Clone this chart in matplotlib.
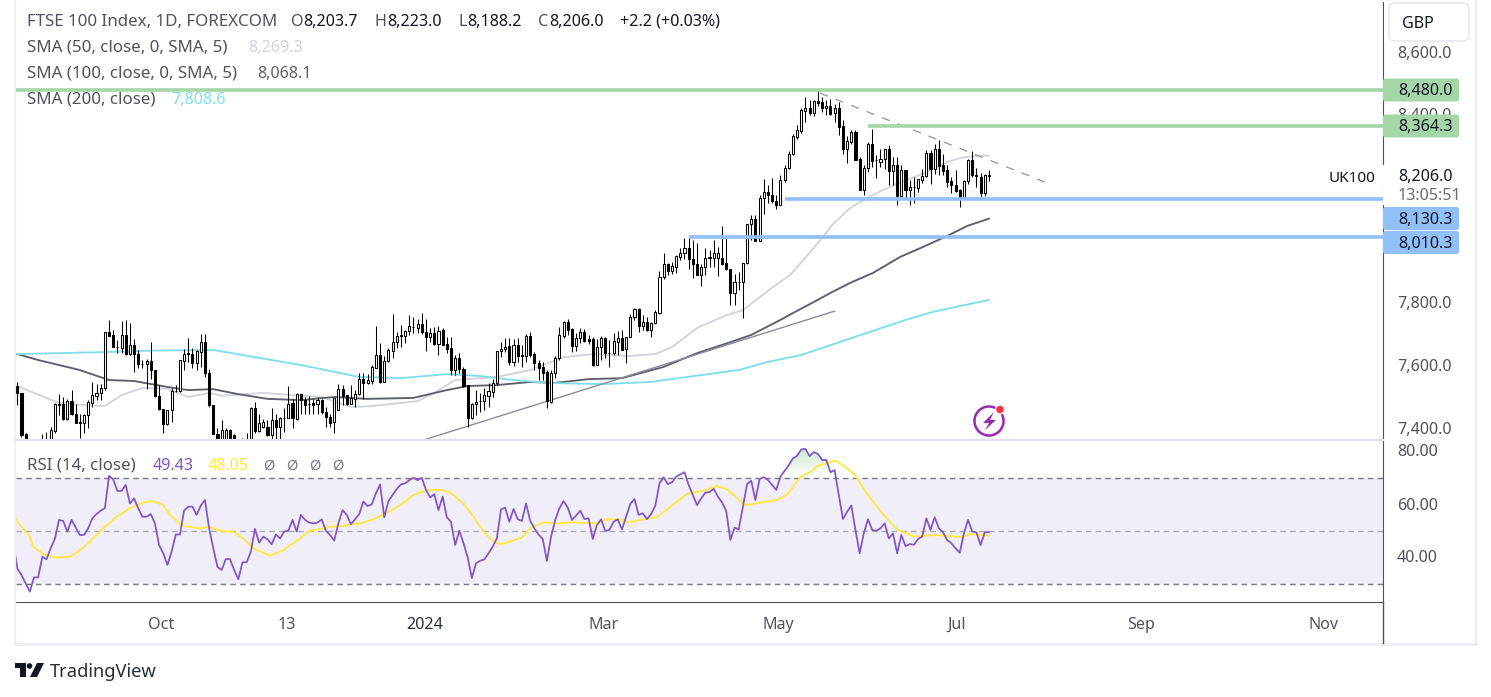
import numpy as np
import matplotlib
matplotlib.use("Agg")
import matplotlib.pyplot as plt
from matplotlib.patches import FancyBboxPatch, Rectangle, Polygon, Circle, Arc
from matplotlib.transforms import ScaledTranslation

plt.rcParams['font.family'] = ['Noto Sans', 'DejaVu Sans']

opens = [7534,7513,7380,7340,7320,7325,7330,7335,7361,7391,
 7478,7476,7428,7485,7446,7418,7417,7442,7481,7502,
 7512,7528,7705,7696,7660,7656,7696,7635,7664,7635,
 7603,7603,7613,7585,7503,7462,7412,7456,7518,7518,
 7615,7638,7636,7608,7643,7673,7574,7475,7381,7345,
 7345,7395,7377,7320,7330,7340,7362,7463,7391,7402,
 7404,7378,7425,7402,7431,7431,7481,7430,7507,7489,
 7476,7480,7476,7489,7452,7436,7419,7459,7523,7505,
 7478,7494,7508,7558,7545,7551,7592,7633,7548,7614,
 7646,7673,7694,7694,7710,7723,7720,7731,7707,7691,
 7704,7668,7712,7667,7654,7585,7625,7587,7537,7433,
 7476,7487,7487,7503,7516,7543,7646,7651,7662,7612,
 7665,7631,7631,7694,7636,7609,7594,7579,7484,7574,
 7622,7695,7737,7716,7663,7686,7708,7683,7683,7601,
 7659,7687,7640,7640,7676,7687,7651,7689,7753,7780,
 7727,7739,7713,7734,7768,7881,7925,7902,7915,7947,
 7959,7973,7941,7925,7888,7915,7944,7944,7944,7944,
 7928,7909,7830,7867,7867,7928,8050,8066,7998,8133,
 8152,8145,8125,8112,8191,8231,8274,8329,8348,8412,
 8420,8404,8443,8439,8423,8429,8404,8420,8363,8289,
 8313,8345,8258,8159,8231,8308,8254,8250,8258,8289,
 8221,8241,8141,8223,8159,8170,8167,8193,8204,8279,
 8228,8289,8239,8223,8188,8177,8159,8130,8187,8257,
 8209,8202,8149,8203.7]
closes = [7512,7377,7340,7320,7310,7330,7352,7360,7393,7478,
 7474,7428,7485,7444,7417,7417,7442,7482,7504,7513,
 7529,7705,7694,7659,7659,7696,7635,7664,7635,7603,
 7603,7613,7585,7503,7460,7412,7457,7518,7518,7617,
 7636,7635,7608,7646,7673,7574,7473,7381,7340,7395,
 7395,7350,7350,7335,7350,7360,7463,7391,7417,7419,
 7377,7425,7402,7432,7431,7478,7431,7507,7489,7473,
 7476,7473,7489,7452,7436,7415,7497,7523,7502,7478,
 7495,7510,7558,7544,7553,7595,7632,7548,7614,7648,
 7673,7694,7696,7710,7724,7723,7731,7707,7691,7702,
 7668,7710,7665,7652,7585,7625,7587,7534,7431,7477,
 7484,7487,7505,7517,7545,7646,7651,7660,7612,7665,
 7631,7631,7695,7633,7606,7593,7577,7487,7574,7622,
 7696,7737,7713,7663,7686,7708,7679,7679,7601,7659,
 7687,7638,7640,7678,7686,7649,7689,7753,7780,7727,
 7737,7713,7734,7769,7881,7925,7902,7917,7949,7960,
 7973,7939,7925,7888,7915,7944,7944,7960,7960,7925,
 7909,7830,7867,7867,7928,8050,8066,7998,8133,8152,
 8143,8125,8112,8193,8231,8276,8331,8350,8414,8420,
 8404,8443,8438,8423,8429,8402,8420,8361,8289,8315,
 8345,8255,8159,8231,8308,8253,8254,8260,8289,8221,
 8241,8141,8223,8159,8170,8168,8194,8205,8279,8228,
 8289,8236,8221,8186,8175,8157,8130,8187,8257,8207,
 8204,8149,8207,8206.0]
highs = [7548,7513,7384,7345,7330,7345,7380,7386,7404,7480,
 7507,7498,7491,7521,7478,7446,7446,7489,7548,7542,
 7540,7705,7744,7714,7680,7742,7744,7736,7683,7648,
 7617,7619,7673,7585,7537,7462,7457,7529,7537,7617,
 7651,7688,7654,7648,7700,7700,7587,7475,7399,7425,
 7400,7396,7380,7340,7367,7383,7468,7484,7446,7430,
 7425,7463,7446,7436,7463,7534,7494,7513,7510,7500,
 7502,7494,7500,7494,7468,7446,7497,7540,7537,7505,
 7537,7521,7576,7576,7572,7601,7725,7670,7629,7654,
 7765,7707,7728,7712,7760,7755,7747,7766,7747,7718,
 7723,7725,7718,7691,7691,7633,7638,7596,7537,7481,
 7521,7511,7527,7543,7555,7646,7676,7686,7686,7683,
 7686,7665,7700,7707,7644,7617,7612,7585,7585,7630,
 7721,7742,7748,7718,7702,7718,7716,7697,7691,7683,
 7694,7691,7681,7704,7710,7713,7689,7764,7784,7782,
 7760,7753,7739,7776,7901,7960,7927,7931,7952,7973,
 8005,8010,8000,7989,7925,7973,7968,8000,7978,8044,
 8005,7909,7893,7899,7928,8050,8079,8079,8143,8196,
 8175,8198,8143,8207,8239,8285,8340,8366,8420,8457,
 8448,8448,8478,8457,8446,8451,8433,8441,8382,8331,
 8350,8350,8265,8239,8313,8356,8271,8289,8292,8303,
 8265,8265,8239,8223,8191,8202,8196,8228,8287,8287,
 8308,8319,8274,8239,8202,8223,8164,8193,8260,8284,
 8231,8214,8210,8223.0]
lows = [7473,7370,7320,7310,7290,7300,7300,7300,7340,7383,
 7441,7425,7425,7441,7415,7367,7385,7399,7468,7489,
 7489,7521,7694,7659,7638,7638,7633,7633,7579,7590,
 7590,7523,7558,7500,7457,7383,7409,7420,7516,7516,
 7585,7611,7590,7585,7595,7563,7468,7381,7320,7320,
 7320,7320,7320,7300,7300,7300,7340,7383,7388,7399,
 7375,7362,7360,7360,7388,7431,7399,7425,7446,7446,
 7446,7446,7446,7446,7402,7402,7383,7459,7473,7473,
 7476,7468,7505,7491,7540,7540,7592,7544,7548,7611,
 7622,7654,7659,7670,7697,7702,7702,7700,7647,7675,
 7665,7634,7665,7638,7569,7569,7577,7530,7402,7428,
 7441,7452,7458,7468,7500,7537,7628,7643,7601,7598,
 7612,7596,7612,7628,7585,7553,7553,7463,7481,7559,
 7617,7686,7697,7643,7647,7672,7675,7668,7598,7601,
 7617,7622,7596,7633,7633,7649,7609,7689,7745,7707,
 7712,7711,7691,7732,7763,7877,7888,7891,7896,7936,
 7941,7909,7880,7888,7854,7888,7915,7915,7885,7920,
 7904,7794,7794,7840,7750,7923,8000,7998,7998,8082,
 8117,8117,8098,8112,8186,8228,8271,8324,8343,8377,
 8398,8395,8427,8409,8398,8398,8377,8335,8276,8246,
 8308,8255,8159,8143,8218,8234,8199,8234,8228,8175,
 8175,8111,8141,8133,8111,8117,8154,8183,8200,8180,
 8212,8207,8207,8170,8149,8154,8106,8130,8180,8202,
 8170,8130,8140,8188.2]

sma200_bar = [0,20,32,47,68,82,92,103,111,117,127,140,152,164,173,180,188,200,213,219.4,226,233]
sma200_val = [7636,7642,7647,7649,7601,7563,7559,7572,7566,7556,7544,7540,7547,7569,7585,7611,7633,7687,7745,7770,7789,7808.6]
sma100_bar = [0,5,15,22,28,36,41,47,53,60,68,76,84,95,103,108,115,123,129,137,145,155,163,171,176,183,186,191,195.4,199.7,205.2,211.7,217.2,223,227.8,233]
sma100_val = [7636,7617,7585,7553,7550,7531,7521,7524,7508,7493,7489,7499,7493,7496,7521,7534,7537,7547,7544,7556,7559,7595,7639,7674,7697,7745,7767,7802,7834,7863,7895,7946,7978,8013,8045,8068.1]
sma50_bar = [0,4,10,16,21,25,30,36,41,46,49,59,66,73,80,85,92,96,100,105,115,123,131,138,147,153,157,163,170,174,178.1,181.2,185.3,190,193.2,195.4,199.7,203.8,207.6,213.3,218.2,223,226.1,229.2,233]
sma50_val = [7534,7512,7480,7473,7470,7505,7528,7525,7499,7512,7503,7512,7505,7499,7467,7470,7480,7486,7512,7553,7563,7585,7626,7636,7630,7636,7658,7719,7760,7776,7818,7850,7888,7959,8010,8048,8102,8134,8160,8192,8217,8249,8262,8268,8269.3]

rsi_val = [46.4,35.7,33.2,30.1,26.9,32.3,32.3,40.1,39.1,43.3,46.8,54,53.6,49.6,54,51.2,48.3,48.3,50.8,54.6,
 56.2,57.5,58.4,70.6,69.3,64.9,64.9,67.2,60.2,62.1,58.4,55.2,55.2,56.2,52.7,44.5,41.4,37,42,48.5,
 48.5,57.5,59,59,55.9,59.4,61.5,50.8,43.3,36.3,35.1,39.2,39.2,35.1,31.6,38,38,42,50.6,45.4,
 47.7,46.7,44.8,48.5,47,49.6,49.9,54,49.6,55.9,54,53,52.7,53,54.2,49.9,48.3,46.2,52.7,57.7,
 55.9,52.4,54.3,56.2,60.9,59.2,59.9,64,67.4,55,61.1,63.4,65.7,67.4,67.8,69,69.9,69,69.9,65.3,
 62.5,63.7,57.7,62.8,55,53.3,44.5,49.9,45.2,39.9,32,37.6,38.6,39.1,41.4,43.9,47,
 58,58.6,53.3,58.1,54.3,53.6,60.2,53.6,50.8,48.5,46.8,38.5,47.7,54,58.4,61.1,58.7,54,55.6,57.5,
 54.3,54.6,46.8,52,54.2,49.8,50.2,53.3,54.2,50.4,55.2,60,61.9,55.9,56.5,54.3,56.2,59.4,67.8,70.1,
 67.5,68.2,70.3,71.2,72,67.2,63.4,59.6,62.1,64.3,64.5,65.7,62.8,60.6,57.4,46.4,51.1,50.4,59,67.5,
 68.8,61.5,69.4,70.1,69.1,67.2,65.3,70.3,72.5,74.7,77.2,78.2,80.6,80.8,78.1,79.6,78.9,76.6,76.6,72,
 72.8,63.4,54.3,57.1,59.4,50.2,41.4,48.9,54.3,50.2,49.9,50.8,52.7,47,48.9,41.4,48.3,44.1,44.9,44.6,
 46.8,47.7,54.6,50.2,55,50.8,49.3,46.4,45.2,43.3,41.6,48.9,54,49.6,49.3,44.5,49.3,49.43]
rsi_ma_bar = [-0.4,3,3.8,6.2,9.4,12.6,14.6,17.4,20.6,23.8,27,30.2,32.6,35,36.6,39.8,43.8,45.8,49.4,51.8,54.2,56.6,60.6,63.8,67.8,69.8,72.6,75,78.2,79.8,82.2,85.4,88.6,91.8,95,98.2,101.8,103.8,107,109.4,111.8,114.2,115.8,
 118.2,121,123,126.2,129.4,132.6,138.6,141.4,144.6,146.6,149.4,153.4,156.6,160.6,164.6,167.8,170.2,174.6,178.2,182.2,184.6,187.8,190.6,191.8,196.2,199,201,203.4,207.4,211,215,219.8,226.6,228.6,233]
rsi_ma_val = [54.2,47.7,43.9,41.1,39.8,40.1,42,45.8,50.8,55.2,58.4,60.6,61.1,59.6,55.9,51.7,50.8,51.4,49.6,49.6,47,43.3,40.5,42.6,47,49.6,50.6,51.4,51.7,52.4,52.7,54.3,56.5,59.6,63.4,65.3,65.3,64.3,60.2,55.2,49.6,45.8,44.8,
 45.8,47.4,50.8,53.1,52.6,53.1,52.7,54.2,54.2,53.1,54,55,59,63.8,65,66.8,65.5,59.6,60.5,61.5,63.6,70.1,72.5,74.3,76.4,73.5,70.7,64.7,56.5,50.4,47.7,48.3,47.5,48.7,48.05]

price_ticks = [7400,7600,7800,8400,8600]
rsi_ticks = [40,60,80]
time_pos = [34.5,64.7,97.8,140.7,182.4,225.3,269.4,313.3]
time_labels = ['Oct','13','2024','Mar','May','Jul','Sep','Nov']
levels_green = [(8480.0,-1),(8364.3,204)]
levels_blue = [(8130.3,184),(8010.3,161)]
support_x = [98.2,196]; support_y = [7365,7773]
resist_x = [192.5,247]; resist_y = [8469,8182]

W, H = 1491, 697
fig = plt.figure(figsize=(W/100, H/100), dpi=100, facecolor='white')
def box(l, t, r, b):
    return [l/W, 1-b/H, (r-l)/W, (b-t)/H]

X0, X1 = 16, 1383
xlim = ((X0-17.3)/4.17, (X1-17.3)/4.17)
TXT = '#50535E'
FS = 11.6   # numerals and axis text
LS = 12.2   # indicator legend text
up = ScaledTranslation(0, 0.5/100, fig.dpi_scale_trans)

ax = fig.add_axes(box(X0, 2, X1, 439))
ax.set_xlim(xlim)
ax.set_ylim(7400+(428-439)*3.192, 7400+(428-2)*3.192)
for s in ['left','top','bottom']:
    ax.spines[s].set_visible(False)
ax.spines['right'].set_color('#50535E')
ax.yaxis.tick_right()
ax.set_yticks(price_ticks, [f'{v:,.1f}' for v in price_ticks], fontsize=FS, color=TXT)
ax.tick_params(axis='y', length=0, pad=10)
for t in ax.get_yticklabels():
    t.set_transform(t.get_transform() + up)
ax.set_xticks([])

x = np.arange(len(opens))
ax.plot(sma50_bar, sma50_val, color='#D1D4DC', lw=1.35, zorder=2)
ax.plot(sma100_bar, sma100_val, color='#5D606B', lw=1.35, zorder=2)
ax.plot(sma200_bar, sma200_val, color='#80DEEA', lw=1.35, zorder=2)
ax.plot(support_x, support_y, color='#8A8D97', lw=1.0, zorder=2)
ax.plot(resist_x, resist_y, color='#9A9DA6', lw=1.0, ls=(0, (6, 6)), zorder=2)

ax.vlines(x, lows, highs, color='black', lw=0.75, zorder=3)
o = np.array(opens, float); c = np.array(closes, float)
bot = np.minimum(o, c); ht = np.maximum(np.abs(c-o), 0.6)
fc = ['black' if cc < oo else 'white' for oo, cc in zip(o, c)]
ax.bar(x, ht, bottom=bot, width=0.5, color=fc, edgecolor='black', lw=0.75, zorder=4)

for v, start in levels_green:
    ax.plot([start, xlim[1]], [v, v], color='#A5D6A7', lw=2.6, zorder=5, solid_capstyle='butt')
for v, start in levels_blue:
    ax.plot([start, xlim[1]], [v, v], color='#90BFF9', lw=2.6, zorder=5, solid_capstyle='butt')

r = fig.add_axes(box(X0, 441, X1, 602))
r.set_xlim(xlim)
r.set_ylim(80-(602-451)/2.65, 80+(451-441)/2.65)
for s in ['left','top']:
    r.spines[s].set_visible(False)
r.spines['right'].set_color('#50535E')
r.spines['bottom'].set_color('#50535E')
r.axhspan(30, 70, color='#F1EDF9', lw=0, zorder=0)
for lv, col in [(70,'#787B86'),(50,'#ACAEB6'),(30,'#787B86')]:
    r.axhline(lv, color=col, lw=1, ls=(0,(4,3)), zorder=1)
rx = np.arange(len(rsi_val)) - (len(rsi_val)-234)
rv = np.array(rsi_val)
grad = np.ones((64, 2, 4)); grad[..., 0] = 0.30; grad[..., 1] = 0.69; grad[..., 2] = 0.31
grad[..., 3] = np.linspace(0.30, 0.0, 64)[:, None]
im = r.imshow(grad, extent=[xlim[0], xlim[1], 70, 81], origin='upper', aspect='auto', zorder=1)
poly = r.fill_between(rx, 70, np.maximum(rv, 70), color='none', lw=0)
im.set_clip_path(poly.get_paths()[0], transform=r.transData)
r.set_xlim(xlim)
r.set_ylim(80-(602-451)/2.65, 80+(451-441)/2.65)
r.plot(rsi_ma_bar, rsi_ma_val, color='#FFE93B', lw=1.3, zorder=2)
r.plot(rx, rv, color='#7E57C2', lw=1.25, zorder=3)
r.yaxis.tick_right()
r.set_yticks(rsi_ticks, [f'{v:.2f}' for v in rsi_ticks], fontsize=FS, color=TXT)
r.tick_params(axis='y', length=0, pad=10)
for t in r.get_yticklabels():
    t.set_transform(t.get_transform() + up)
r.set_xticks(time_pos, time_labels, fontsize=FS, color=TXT)
r.tick_params(axis='x', length=0, pad=10.5)
for t in r.get_xticklabels():
    if t.get_text() == '2024':
        t.set_fontweight('bold')
        t.set_color('#2A2E39')

# overlay in pixel coordinates for the interface furniture
ov = fig.add_axes([0,0,1,1], zorder=10, facecolor='none')
ov.set_xlim(0, W); ov.set_ylim(H, 0); ov.axis('off')
BD = '#EDEFF5'
ov.plot([15,15],[0,643], color=BD, lw=1.6)
ov.plot([1476,1476],[0,643], color=BD, lw=1.6)
ov.plot([15,1476],[643.5,643.5], color=BD, lw=2)
ov.plot([16,1383],[440,440], color='#E0E3EB', lw=1.6)
ov.plot([1383,1383],[602,643], color='#50535E', lw=1)

ov.add_patch(Rectangle((1384,0),91,45,fc='white',ec='none'))
ov.add_patch(FancyBboxPatch((1389,3),80,38,boxstyle='round,pad=0,rounding_size=6',fc='white',ec='#E8EAF0',lw=1.2))
ov.text(1418,24,'GBP',fontsize=FS,color='#131722',ha='center',va='center')

def plabel(y, txt, col):
    ov.add_patch(FancyBboxPatch((1383,y-11.5),76,23,boxstyle='round,pad=0,rounding_size=2.5',fc=col,ec='none'))
    ov.text(1398,y+1,txt,fontsize=FS,color='#131722',va='center')
plabel(90,'8,480.0','#A5D6A7')
plabel(126,'8,364.3','#A5D6A7')
plabel(218.5,'8,130.3','#90BFF9')
plabel(242.5,'8,010.3','#90BFF9')
ov.add_patch(Rectangle((1325,165),58,25,fc='white',ec='none'))
ov.add_patch(Rectangle((1383,165),76,40,fc='white',ec='none'))
ov.text(1352,178,'UK100',fontsize=FS-0.6,color='#131722',ha='center',va='center')
ov.text(1398,177,'8,206.0',fontsize=FS,color='#131722',va='center')
ov.text(1398,196,'13:05:51',fontsize=FS,color='#6A6D78',va='center')

G = '#50535E'; K = '#131722'
LY = [21.5,47.5,73.5,99.5]
ov.text(27,LY[0],'FTSE 100 Index, 1D, FOREXCOM',fontsize=LS,color=G,va='center')
for xx,l,v,d in [(291,'O','8,203.7',12),(375,'H','8,223.0',12),(458,'L','8,188.2',9),(538,'C','8,206.0',11)]:
    ov.text(xx,LY[0],l,fontsize=FS,color=G,va='center')
    ov.text(xx+d,LY[0],v,fontsize=FS,color=K,va='center')
ov.text(620,LY[0],'+2.2 (+0.03%)',fontsize=FS,color=K,va='center')
ov.text(27,LY[1],'SMA (50, close, 0, SMA, 5)',fontsize=LS,color=G,va='center')
ov.text(248,LY[1],'8,269.3',fontsize=FS,color='#D1D4DC',va='center')
ov.text(27,LY[2],'SMA (100, close, 0, SMA, 5)',fontsize=LS,color=G,va='center')
ov.text(257,LY[2],'8,068.1',fontsize=FS,color='#5D606B',va='center')
ov.text(27,LY[3],'SMA (200, close)',fontsize=LS,color=G,va='center')
ov.text(171,LY[3],'7,808.6',fontsize=FS,color='#80DEEA',va='center')
ov.text(27,466,'RSI (14, close)',fontsize=LS,color=G,va='center')
ov.text(153,466,'49.43',fontsize=FS,color='#7E57C2',va='center')
ov.text(208,466,'48.05',fontsize=FS,color='#FFE93B',va='center')
for xx in [269,292,315,338]:
    ov.text(xx,466,'\u00d8',fontsize=FS-1,color='#787B86',va='center',ha='center')

# TradingView logo
ov.add_patch(Polygon([(15,663),(26,663),(26,677),(20,677),(20,668),(15,668)],fc='#131722',ec='none'))
ov.add_patch(Circle((29.5,666),2.8,fc='#131722',ec='none'))
ov.add_patch(Polygon([(37,663),(44,663),(37,677),(30,677)],fc='#131722',ec='none'))
ov.text(50,672,'TradingView',fontsize=13.2,color='#2A2E39',va='center')

# lightning badge
ov.add_patch(Arc((989,421),29,29,theta1=0,theta2=360,ec='#9C27B0',lw=1.8))
ov.add_patch(Polygon([(994,412),(983,423),(989,423),(985,430),(996,420),(990,420)],fc='#9C27B0',ec='none'))
ov.add_patch(Circle((1000,409.5),5,fc='white',ec='none'))
ov.add_patch(Circle((1000,409.5),3.8,fc='#F23645',ec='none'))

fig.savefig('out.png', dpi=100, facecolor='white')
